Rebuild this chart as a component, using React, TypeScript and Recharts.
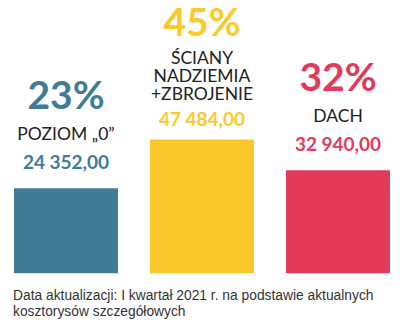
import { BarChart, Bar, XAxis, YAxis, LabelList, Cell } from "recharts";

const categories = ["POZIOM „0”", "ŚCIANY\nNADZIEMIA\n+ZBROJENIE", "DACH"];
const costs = [24352.0, 47484.0, 32940.0];
const shares = ["23%", "45%", "32%"];
const costLabels = ["24 352,00", "47 484,00", "32 940,00"];
const colors = ["#417C97", "#FCC92D", "#E3395A"];

// the bars don't start at zero in the original, the axis floor sits below it
const FLOOR = -16000;
const TOP = 113600;

const data = categories.map((name, i) => ({
  name,
  cost: costs[i],
  share: shares[i],
  costLabel: costLabels[i],
  color: colors[i],
}));

const FONT = "Lato, 'Open Sans', sans-serif";

// percent / name lines / cost stacked over the bar, squeezed when it would not fit
function Stack(props: any) {
  const { x, y, width, index } = props;
  const d = data[index];
  const cx = x + width / 2;
  const lines = d.name.split("\n");
  const normal = 31 + (lines.length - 1) * 18.5 + 29 + 19;
  const k = Math.min(1, (y - 35) / normal);
  const gap = k < 1 ? 15 * k : 19;
  const lineStep = k < 1 ? 18 : 18.5;
  const valueY = y - gap;
  const firstLineY = valueY - 29 * k - (lines.length - 1) * lineStep;
  const shareY = firstLineY - 31 * k;
  return (
    <g>
      <text x={cx} y={shareY} textAnchor="middle" fill={d.color} fontFamily={FONT} fontWeight={700} fontSize={39}>
        {d.share}
      </text>
      {lines.map((ln: string, i: number) => (
        <text key={i} x={cx} y={firstLineY + i * lineStep} textAnchor="middle" fill="#222" fontFamily={FONT} fontSize={17.5}>
          {ln}
        </text>
      ))}
      <text x={cx} y={valueY} textAnchor="middle" fill={d.color} fontFamily={FONT} fontWeight={700} fontSize={19}>
        {d.costLabel}
      </text>
    </g>
  );
}

export default function App() {
  return (
    <div style={{ position: "relative", width: 400, height: 328, margin: -8, background: "#fff" }}>
      <BarChart width={400} height={276} data={data} margin={{ top: 0, right: -6, bottom: 2.5, left: -2 }}>
        <XAxis dataKey="name" hide />
        <YAxis hide domain={[FLOOR, TOP]} allowDataOverflow />
        <Bar dataKey={(d: any) => [FLOOR, d.cost]} barSize={104} isAnimationActive={false}>
          {data.map((d, i) => (
            <Cell key={i} fill={d.color} />
          ))}
          <LabelList content={<Stack />} />
        </Bar>
      </BarChart>
      <div
        style={{
          position: "absolute",
          left: 13,
          top: 288,
          fontFamily: "'Liberation Sans', Arial, sans-serif",
          fontSize: 13.8,
          lineHeight: "16px",
          color: "#333",
          whiteSpace: "pre",
        }}
      >
        {"Data aktualizacji: I kwartał 2021 r. na podstawie aktualnych\nkosztorysów szczegółowych"}
      </div>
    </div>
  );
}
